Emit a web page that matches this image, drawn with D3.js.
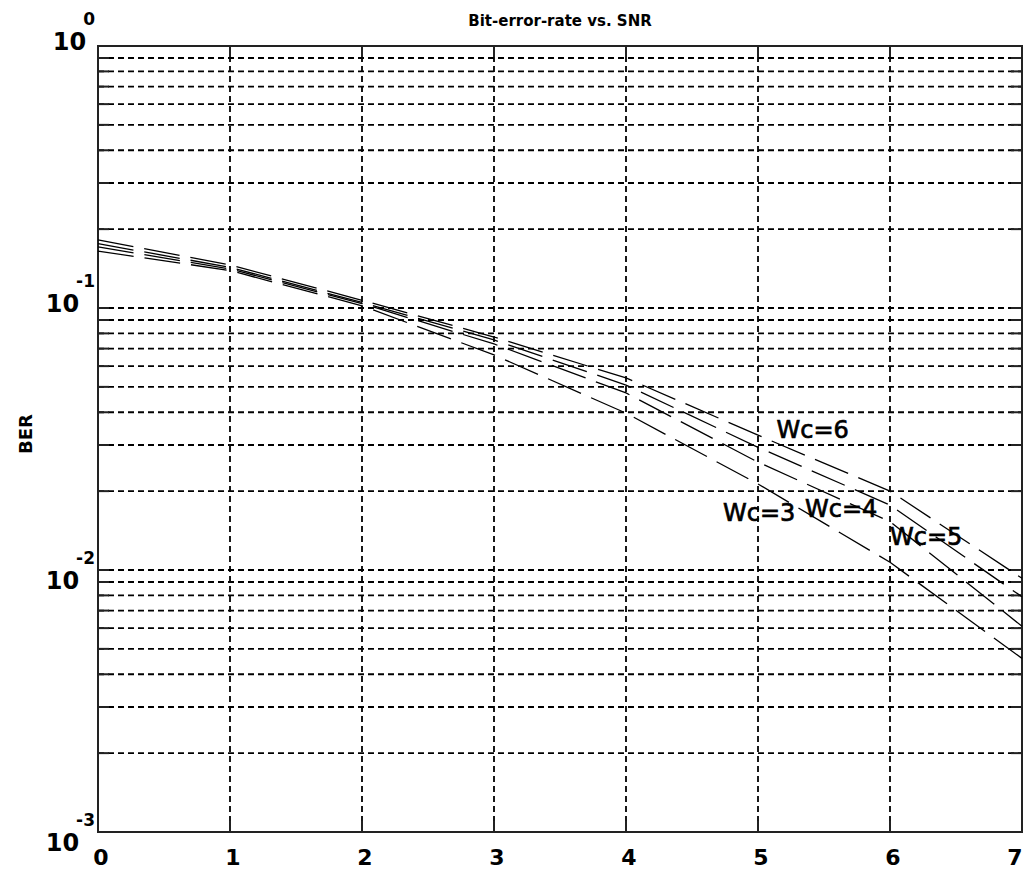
<!DOCTYPE html>
<html>
<head>
<meta charset="utf-8">
<script src="https://cdn.jsdelivr.net/npm/d3@7"></script>
<style>
	body { margin: 0; background: #fff; }
	svg { display: block; }
	.grid line { stroke: #000; stroke-width: 1.8; stroke-dasharray: 6 4; }
	.frame { fill: none; stroke: #222; stroke-width: 2; }
	.tick-mark { stroke: #222; stroke-width: 2; }
	.curve { fill: none; stroke: #000; stroke-width: 1.3; stroke-dasharray: 36 11; }
	text { font-family: "DejaVu Sans", sans-serif; fill: #000; }
	.wc { stroke: #000; stroke-width: 0.7; }
</style>
</head>
<body>
<div id="chart"></div>
<script>
"use strict";

// SNR (x axis) and BER for each curve
const snr = [0, 1, 2, 3, 4, 5, 6, 7];
const berWc6 = [0.182, 0.146, 0.107, 0.0775, 0.0541, 0.0327, 0.0200, 0.0093];
const berWc5 = [0.176, 0.143, 0.105, 0.0755, 0.0508, 0.0294, 0.0177, 0.0079];
const berWc4 = [0.171, 0.141, 0.104, 0.0729, 0.0474, 0.0258, 0.0153, 0.0061];
const berWc3 = [0.165, 0.139, 0.102, 0.0662, 0.0397, 0.0213, 0.0107, 0.0046];

const seriesNames = ['Wc=6', 'Wc=5', 'Wc=4', 'Wc=3'];
const seriesValues = [berWc6, berWc5, berWc4, berWc3];

// curve labels, in data units
const labelText = ['Wc=6', 'Wc=3', 'Wc=4', 'Wc=5'];
const labelSnr = [5.14, 4.735, 5.356, 6.0];
const labelBer = [0.0319, 0.01538, 0.0159, 0.01245];

const xTicks = [0, 1, 2, 3, 4, 5, 6, 7];
const yDecades = [0, -1, -2, -3];

const W = 1026, H = 869;
const M = { left: 98, right: 1022, top: 46, bottom: 832 };

const svg = d3.select('#chart').append('svg')
	.attr('width', W)
	.attr('height', H);

const x = d3.scaleLinear().domain([0, 7]).range([M.left, M.right]);
const y = d3.scaleLog().domain([1e-3, 1]).range([M.bottom, M.top]);

// minor/major gridline values inside the plot
const yGrid = [];
[-3, -2, -1].forEach(k => {
	for (let m = 1; m <= 9; m++) {
		const v = m * Math.pow(10, k);
		if (v > 1e-3 && v < 1) yGrid.push(v);
	}
});

const grid = svg.append('g').attr('class', 'grid');
grid.selectAll('.hg')
	.data(yGrid)
	.enter().append('line')
	.attr('x1', M.left).attr('x2', M.right)
	.attr('y1', d => y(d)).attr('y2', d => y(d));
grid.selectAll('.vg')
	.data(xTicks.slice(1, -1))
	.enter().append('line')
	.attr('x1', d => x(d)).attr('x2', d => x(d))
	.attr('y1', M.top).attr('y2', M.bottom);

// inward tick marks on all four sides
const TL = 11;
const ticks = svg.append('g');
xTicks.forEach(t => {
	ticks.append('line').attr('class', 'tick-mark')
		.attr('x1', x(t)).attr('x2', x(t)).attr('y1', M.bottom).attr('y2', M.bottom - TL);
	ticks.append('line').attr('class', 'tick-mark')
		.attr('x1', x(t)).attr('x2', x(t)).attr('y1', M.top).attr('y2', M.top + TL);
});
yGrid.forEach(v => {
	ticks.append('line').attr('class', 'tick-mark')
		.attr('x1', M.left).attr('x2', M.left + TL).attr('y1', y(v)).attr('y2', y(v));
	ticks.append('line').attr('class', 'tick-mark')
		.attr('x1', M.right).attr('x2', M.right - TL).attr('y1', y(v)).attr('y2', y(v));
});

svg.append('rect')
	.attr('class', 'frame')
	.attr('x', M.left).attr('y', M.top)
	.attr('width', M.right - M.left)
	.attr('height', M.bottom - M.top);

// curves
const line = d3.line()
	.x((d, i) => x(snr[i]))
	.y(d => y(d));

svg.selectAll('.curve')
	.data(seriesValues)
	.enter().append('path')
	.attr('class', 'curve')
	.attr('d', d => line(d));

// curve labels
svg.selectAll('.wc')
	.data(labelText)
	.enter().append('text')
	.attr('class', 'wc')
	.attr('x', (d, i) => x(labelSnr[i]))
	.attr('y', (d, i) => y(labelBer[i]))
	.attr('font-size', 24)
	.text(d => d);

// x tick labels
svg.selectAll('.xl')
	.data(xTicks)
	.enter().append('text')
	.attr('class', 'xl')
	.attr('x', d => Math.min(x(d) + 3, 1015))
	.attr('y', M.bottom + 33)
	.attr('text-anchor', 'middle')
	.attr('font-size', 22)
	.attr('font-weight', 'bold')
	.text(d => d);

// y tick labels: 10 with superscript exponent
const yl = svg.selectAll('.yl')
	.data(yDecades)
	.enter().append('text')
	.attr('class', 'yl')
	.attr('x', 95)
	.attr('y', d => y(Math.pow(10, d)) + (d > -2 ? 4 : 19))
	.attr('text-anchor', 'end')
	.attr('font-weight', 'bold');
yl.append('tspan')
	.attr('font-size', 24)
	.text('10');
yl.append('tspan')
	.attr('font-size', 17)
	.attr('dx', -3)
	.attr('dy', -25)
	.text(d => d === 0 ? '0' : '-' + Math.abs(d));

// title and axis label
svg.append('text')
	.attr('x', (M.left + M.right) / 2)
	.attr('y', 26)
	.attr('text-anchor', 'middle')
	.attr('font-size', 15)
	.attr('font-weight', 'bold')
	.text('Bit-error-rate vs. SNR');

svg.append('text')
	.attr('transform', 'translate(32, 434) rotate(-90)')
	.attr('text-anchor', 'middle')
	.attr('font-size', 18)
	.attr('font-weight', 'bold')
	.text('BER');
</script>
</body>
</html>
